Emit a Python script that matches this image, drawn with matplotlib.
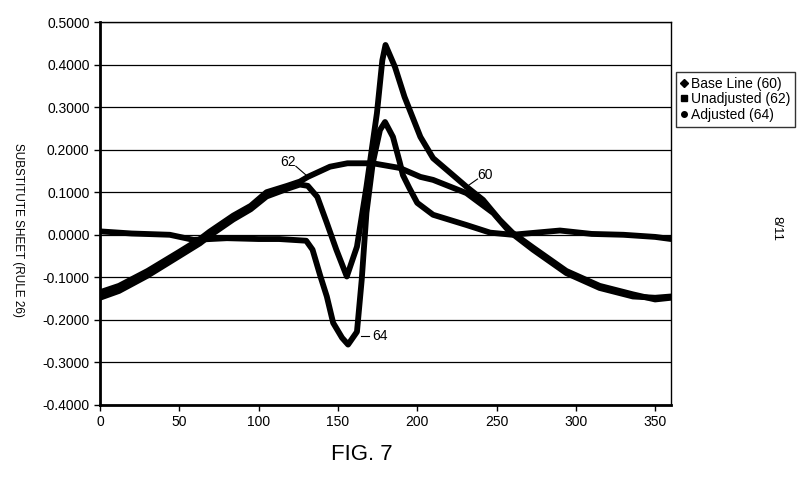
import matplotlib
matplotlib.use("Agg")
import matplotlib.pyplot as plt
from matplotlib.lines import Line2D

plt.rcParams['font.family'] = ['Liberation Sans', 'DejaVu Sans']

# Base Line (60)
base_x = [0, 12, 30, 50, 63, 70, 84, 95, 105, 118, 126, 131, 137, 143, 149, 155.6, 162, 168,
          174.6, 178, 180, 186, 192, 202, 210, 221, 231, 241.5, 252, 260, 273, 294, 315, 336, 350, 360]
base_y = [-0.148, -0.132, -0.096, -0.050, -0.020, 0.000, 0.036, 0.060, 0.090, 0.108, 0.118, 0.115,
          0.089, 0.028, -0.035, -0.098, -0.028, 0.113, 0.286, 0.410, 0.446, 0.394, 0.324, 0.230,
          0.180, 0.145, 0.113, 0.082, 0.035, 0.005, -0.030, -0.085, -0.120, -0.140, -0.152, -0.148]

# Unadjusted (62)
unadj_x = [0, 12, 30, 50, 63, 69, 84, 95, 105, 118, 126, 131, 145, 156, 172, 189, 202, 210,
           231, 248, 258, 273, 294, 315, 336, 350, 360]
unadj_y = [-0.135, -0.120, -0.085, -0.040, -0.010, 0.007, 0.045, 0.068, 0.100, 0.115, 0.125,
           0.136, 0.160, 0.168, 0.168, 0.157, 0.136, 0.129, 0.098, 0.051, 0.008, -0.035, -0.090,
           -0.125, -0.145, -0.148, -0.145]

# Adjusted (64)
adj_x = [0, 20, 44, 59, 80, 100, 113, 130, 134, 139, 143, 147, 152.6, 156.4, 162, 165, 168, 172,
         176.5, 179.7, 184.7, 189, 191, 195, 200, 210, 231, 246, 260, 290, 310, 330, 350, 360]
adj_y = [0.008, 0.003, 0.000, -0.012, -0.008, -0.010, -0.010, -0.014, -0.035, -0.098, -0.145,
         -0.207, -0.242, -0.258, -0.228, -0.106, 0.052, 0.169, 0.246, 0.265, 0.230, 0.170, 0.140,
         0.110, 0.075, 0.047, 0.023, 0.005, 0.000, 0.010, 0.002, 0.000, -0.005, -0.010]

x_ticks = [0, 50, 100, 150, 200, 250, 300, 350]
y_ticks = [-0.4, -0.3, -0.2, -0.1, 0.0, 0.1, 0.2, 0.3, 0.4, 0.5]
legend_labels = ["Base Line (60)", "Unadjusted (62)", "Adjusted (64)"]

fig = plt.figure(figsize=(8.03, 4.78), dpi=100)
ax = fig.add_axes([100/803, 1-405/478, 571/803, 383/478])

for yv in y_ticks:
    ax.axhline(yv, color='black', lw=0.9, zorder=1)

lw = 4.2
for xs, ys in [(unadj_x, unadj_y), (base_x, base_y), (adj_x, adj_y)]:
    ax.plot(xs, ys, color='black', lw=lw, solid_joinstyle='round',
            solid_capstyle='round', zorder=3)

ax.set_xlim(0, 360)
ax.set_ylim(-0.4, 0.5)
ax.set_xticks(x_ticks)
ax.set_yticks(y_ticks)
ax.set_yticklabels([f"{v:.4f}" for v in y_ticks])
ax.tick_params(axis='both', labelsize=10, direction='out', length=4, width=1, colors='black')
ax.tick_params(axis='x', pad=3)

for side in ['left', 'bottom']:
    ax.spines[side].set_linewidth(2)
ax.spines['top'].set_linewidth(1)
ax.spines['right'].set_linewidth(1)

# annotations (label text + thin leader line)
ax.text(118.5, 0.171, "62", fontsize=10, ha='center', va='center')
ax.plot([123.5, 130], [0.161, 0.140], color='black', lw=0.8, zorder=4)
ax.text(243, 0.141, "60", fontsize=10, ha='center', va='center')
ax.plot([238, 230], [0.131, 0.110], color='black', lw=0.8, zorder=4)
ax.text(176.5, -0.237, "64", fontsize=10, ha='center', va='center')
ax.plot([164.5, 169.5], [-0.237, -0.237], color='black', lw=0.8, zorder=4)

handles = [Line2D([], [], ls='none', marker='D', ms=4, color='black'),
           Line2D([], [], ls='none', marker='s', ms=4.5, color='black'),
           Line2D([], [], ls='none', marker='o', ms=4, color='black')]
leg = fig.legend(handles, legend_labels, loc='upper left', bbox_to_anchor=(676/803, 1-72/478),
                 fontsize=10, frameon=True, fancybox=False, edgecolor='black',
                 handlelength=0.4, handletextpad=0.3, borderpad=0.35, labelspacing=0.1,
                 borderaxespad=0)
leg.get_frame().set_linewidth(1.0)

fig.text(362/803, 1-455/478, "FIG. 7", fontsize=16, ha='center', va='center')
fig.text(18/803, 1-230/478, "SUBSTITUTE SHEET (RULE 26)", fontsize=8.5, rotation=-90,
         ha='center', va='center')
fig.text(776/803, 1-228/478, "8/11", fontsize=9.5, rotation=-90, ha='center', va='center')

fig.savefig("out.png", dpi=100)
